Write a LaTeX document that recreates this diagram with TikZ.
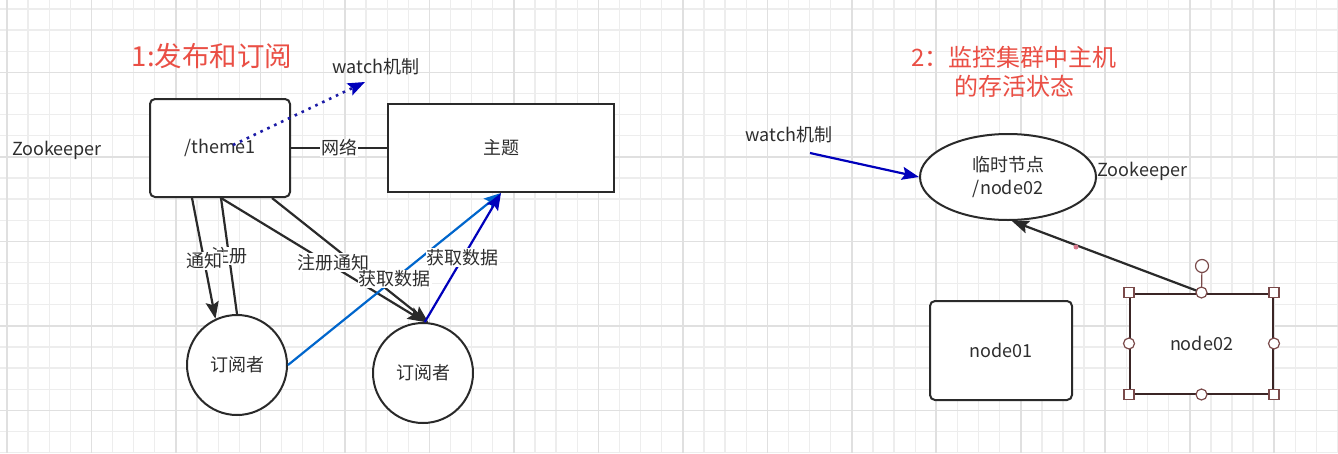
\documentclass[tikz,border=0pt]{standalone}
\usepackage{fontspec}
\setmainfont{Noto Sans CJK SC}
\usetikzlibrary{arrows.meta,shapes.geometric}
\definecolor{txt}{HTML}{2E2E2E}
\definecolor{ln}{HTML}{2A2A2A}
\definecolor{ttl}{HTML}{EA4F45}
\definecolor{gmin}{HTML}{EDEDED}
\definecolor{gmaj}{HTML}{E0E0E0}
\definecolor{blueA}{HTML}{0066CC}
\definecolor{blueB}{HTML}{0000BB}
\definecolor{navy}{HTML}{1A1AA6}
\definecolor{sel}{HTML}{7A4A4A}
\definecolor{selb}{HTML}{3A2525}
\definecolor{pinkdot}{HTML}{D87A8E}
\tikzset{
  body/.style={font=\fontsize{18}{23}\selectfont, text=txt},
  box/.style={draw=ln, line width=2pt, fill=white, body, inner sep=0pt},
  conn/.style={draw=ln, line width=2.2pt},
  arrowtip/.style={-{Stealth[length=17pt,width=13pt,inset=3pt]}},
  lbl/.style={fill=white, inner sep=1pt, body},
  handlesq/.style={draw=sel, fill=white, line width=1.2pt, minimum size=10pt, inner sep=0pt},
  handlect/.style={circle, draw=sel, fill=white, line width=1.2pt, minimum size=11pt, inner sep=0pt},
  ttlfont/.style={text=ttl}
}
\begin{document}
\begin{tikzpicture}[x=1pt,y=-1pt]
\useasboundingbox (0,0) rectangle (1338,453);
\fill[white] (0,0) rectangle (1338,453);
% grid
\foreach \i in {0,...,63} \draw[gmin, line width=1.3pt] ({7+21.12*\i},0) -- ++(0,453);
\foreach \i in {0,...,21} \draw[gmin, line width=1.3pt] (0,{9+21.12*\i}) -- ++(1338,0);
\foreach \i in {0,...,15} \draw[gmaj, line width=1.6pt] ({7+84.48*\i},0) -- ++(0,453);
\foreach \i in {0,...,4} \draw[gmaj, line width=1.6pt] (0,{72.4+84.48*\i}) -- ++(1338,0);

% ---------- part 1 ----------
\node[ttlfont, font=\fontsize{27.5}{30}\selectfont] (title1) at (212,56) {1:发布和订阅};
\node[body] (wt1) at (376,67) {watch机制};
\node[body] (zk1) at (57,150) {Zookeeper};
\node[box, rounded corners=5pt, minimum width=140pt, minimum height=98pt] (theme1) at (220,148) {/theme1};
\node[box, minimum width=226pt, minimum height=88pt] (zhuti) at (501,148) {主题};
\node[box, circle, minimum size=100pt] (s1) at (237,365) {订阅者};
\node[box, circle, minimum size=100pt] (s2) at (423,373) {订阅者};

\draw[conn] (theme1.east) -- node[lbl] {网络} (zhuti.west);

\draw[conn] ([xshift=72pt]theme1.south west) -- node[lbl, pos=0.5] {注册} (s1.north);
\draw[conn, arrowtip] ([xshift=43pt]theme1.south west) -- node[lbl, pos=0.52] {通知} (s1.115);

\draw[conn, arrowtip] ([xshift=123pt]theme1.south west) -- (s2.84);
\draw[conn, arrowtip] ([xshift=72pt]theme1.south west) -- node[lbl, pos=0.55, yshift=4pt] {注册通知} (s2.88);

\draw[line width=2.2pt, blueA, arrowtip] (s1.east) -- node[lbl, pos=0.5] {获取数据} (zhuti.south);
\draw[line width=2.2pt, blueB, arrowtip] (s2.88) -- node[lbl, pos=0.5] {获取数据} (zhuti.south);

\coordinate (w1s) at (233,145);
\coordinate (w1e) at (365,82);
\draw[navy, line width=2.6pt, dash pattern=on 2.6pt off 5pt, -{Stealth[length=17pt,width=13pt,inset=3pt,color=blueB]}] (w1s) -- (w1e);

% ---------- part 2 ----------
\node[ttlfont, font=\fontsize{24}{29}\selectfont, align=center] (title2) at (1014,72) {2：监控集群中主机\\的存活状态};
\node[body] (wt2) at (789,135) {watch机制};
\node[box, ellipse, minimum width=176pt, minimum height=86pt, align=center] (eph) at (1008,177) {临时节点\\/node02};
\node[body, anchor=west] (zk2) at (1094,171) {Zookeeper};
\node[box, rounded corners=5pt, minimum width=142pt, minimum height=99pt] (n1) at (1001,350.5) {node01};
\node[box, draw=selb, minimum width=143pt, minimum height=100pt] (n2) at (1201.5,343.5) {node02};

\coordinate (w2s) at (810,153);
\draw[line width=2.2pt, blueB, arrowtip] (w2s) -- (eph.west);

\draw[conn, arrowtip] (n2.north) -- (eph.-85);
\node[circle, fill=pinkdot, inner sep=0pt, minimum size=5pt] (pd) at (1076,247) {};

% selection handles
\node[handlect, minimum size=13pt] (rot) at (1202,266) {};
\draw[sel, line width=1.2pt] (n2.north) -- (rot);
\node[handlesq] (h1) at (n2.north west) {};
\node[handlesq] (h2) at (n2.north east) {};
\node[handlesq] (h3) at (n2.south west) {};
\node[handlesq] (h4) at (n2.south east) {};
\node[handlect] (h5) at (n2.north) {};
\node[handlect] (h6) at (n2.south) {};
\node[handlect] (h7) at (n2.west) {};
\node[handlect] (h8) at (n2.east) {};
\end{tikzpicture}
\end{document}
